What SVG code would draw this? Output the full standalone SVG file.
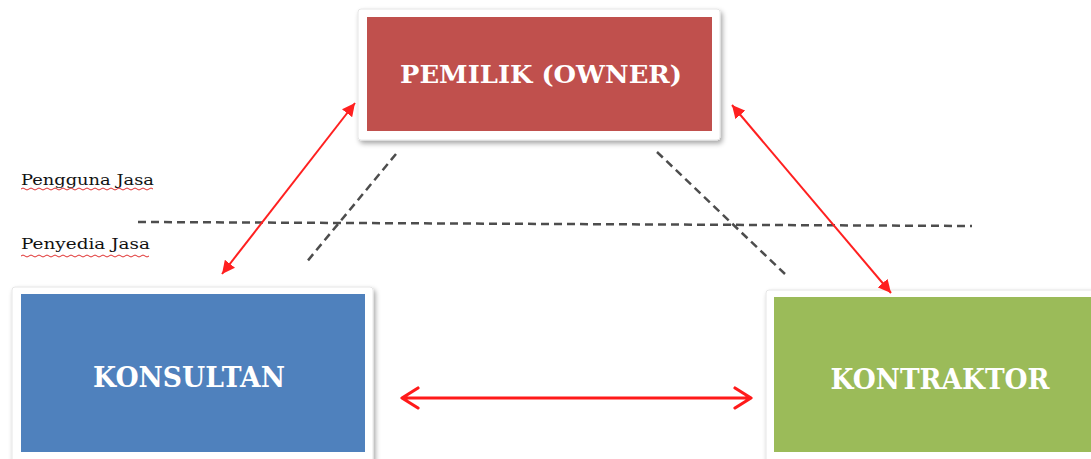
<svg xmlns="http://www.w3.org/2000/svg" width="1091" height="459" viewBox="0 0 1091 459">
<style>
.frame{fill:#ffffff;stroke:#e6e6e6;stroke-width:1}
.title{font-family:"DejaVu Serif","Liberation Serif",serif;font-weight:bold;fill:#ffffff;text-anchor:middle}
.lbl{font-family:"DejaVu Serif","Liberation Serif",serif;font-size:15px;fill:#111111}
.dash{fill:none;stroke:#4d4d4d;stroke-width:2.5;stroke-dasharray:8 5}
.rel{fill:none;stroke:#ff2020;stroke-width:2}
.wavy{fill:none;stroke:#e03030;stroke-width:1}
</style>
<defs>
<filter id="sh" x="-10%" y="-10%" width="120%" height="130%">
<feDropShadow dx="2" dy="3" stdDeviation="2.5" flood-color="#000000" flood-opacity="0.35"/>
</filter>
<marker id="tri" viewBox="0 0 10 10" refX="10" refY="5" markerWidth="7" markerHeight="7" orient="auto-start-reverse" markerUnits="userSpaceOnUse">
<path d="M0,0 L10,5 L0,10 z" fill="#ff2020"/>
</marker>
<marker id="tri2" viewBox="0 0 10 10" refX="10" refY="5" markerWidth="13" markerHeight="13" orient="auto-start-reverse" markerUnits="userSpaceOnUse">
<path d="M0,0 L10,5 L0,10 z" fill="#ff2020"/>
</marker>
</defs>

<g id="owner">
<rect class="frame" x="358" y="9" width="362" height="131" rx="3" filter="url(#sh)"/>
<rect x="367" y="17" width="345" height="114" fill="#c0504d"/>
<text class="title" x="541" y="83" font-size="25" textLength="282" lengthAdjust="spacingAndGlyphs">PEMILIK (OWNER)</text>
</g>

<g id="konsultan">
<rect class="frame" x="12" y="287" width="361" height="180" rx="3" filter="url(#sh)"/>
<rect x="21" y="294" width="344" height="158" fill="#4f81bd"/>
<text class="title" x="189" y="387" font-size="28" textLength="192" lengthAdjust="spacingAndGlyphs">KONSULTAN</text>
</g>

<g id="kontraktor">
<rect class="frame" x="766" y="290" width="340" height="180" rx="3" filter="url(#sh)"/>
<rect x="774" y="297" width="330" height="155" fill="#9bbb59"/>
<text class="title" x="940" y="389" font-size="28" textLength="219" lengthAdjust="spacingAndGlyphs">KONTRAKTOR</text>
</g>

<g id="labels">
<text class="lbl" x="21" y="185" textLength="133" lengthAdjust="spacingAndGlyphs">Pengguna Jasa</text>
<path class="wavy" d="M21,189 q2,-2 4,0 t4,0 t4,0 t4,0 t4,0 t4,0 t4,0 t4,0 t4,0 t4,0 t4,0 t4,0 t4,0 t4,0 t4,0 t4,0 t4,0 t4,0 t4,0 t4,0 t4,0 t4,0 t4,0 t4,0 t4,0 t4,0 t4,0 t4,0 t4,0 t4,0 t4,0 t4,0 t4,0"/>
<text class="lbl" x="21" y="249" textLength="129" lengthAdjust="spacingAndGlyphs">Penyedia Jasa</text>
<path class="wavy" d="M21,256 q2,-2 4,0 t4,0 t4,0 t4,0 t4,0 t4,0 t4,0 t4,0 t4,0 t4,0 t4,0 t4,0 t4,0 t4,0 t4,0 t4,0 t4,0 t4,0 t4,0 t4,0 t4,0 t4,0 t4,0 t4,0 t4,0 t4,0 t4,0 t4,0 t4,0 t4,0 t4,0 t4,0"/>
</g>

<g id="connectors">
<line class="dash" x1="138" y1="222" x2="972" y2="226"/>
<line class="dash" x1="396" y1="154" x2="305" y2="264"/>
<line class="dash" x1="657" y1="152" x2="785" y2="274"/>
<line class="rel" x1="355" y1="103" x2="222" y2="274" marker-start="url(#tri2)" marker-end="url(#tri2)"/>
<line class="rel" x1="732" y1="105" x2="891" y2="293" marker-start="url(#tri2)" marker-end="url(#tri2)"/>
<path d="M403,398 L750,398 M418,388 L402,398 L418,408 M735,388 L751,398 L735,408" fill="none" stroke="#ff1a1a" stroke-width="3.2" stroke-linecap="round" stroke-linejoin="round"/>
</g>
</svg>
